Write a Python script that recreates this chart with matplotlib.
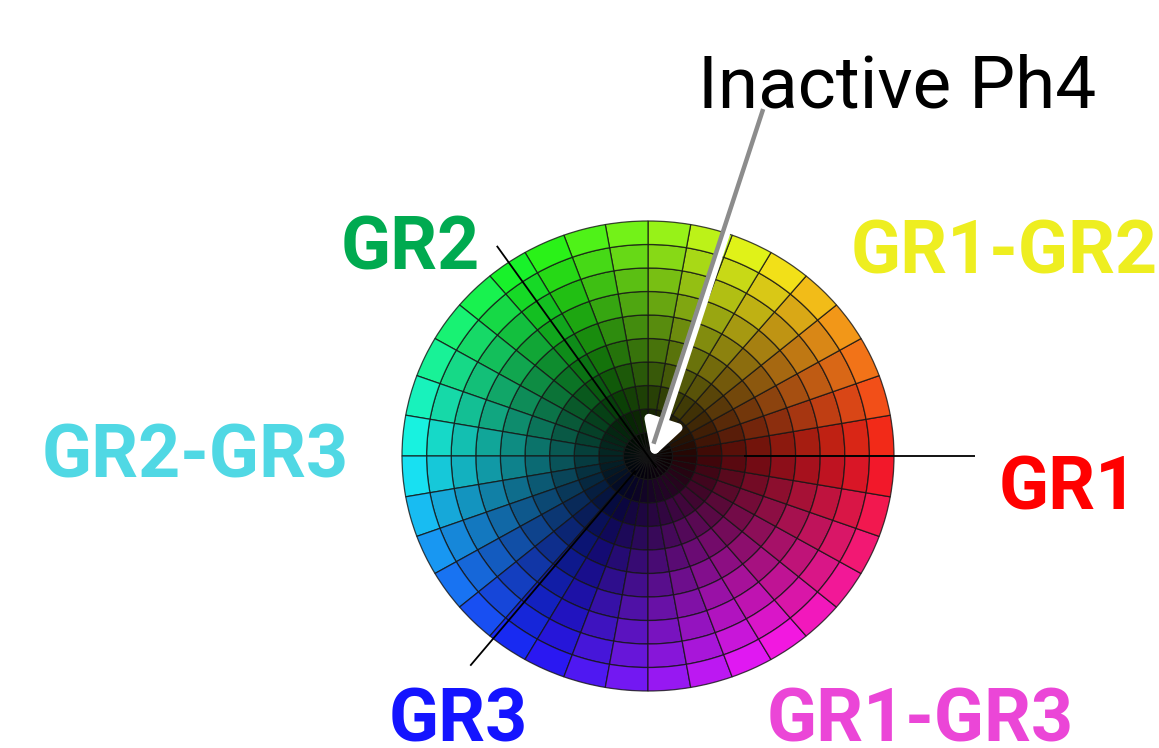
import numpy as np
import matplotlib
matplotlib.use("Agg")
import matplotlib.pyplot as plt
from matplotlib.patches import Wedge
from matplotlib.colors import hsv_to_rgb

# ---- data ----
n_sectors = 36                      # hue sectors around the wheel
ring_values = [0.05, 0.15, 0.25, 0.35, 0.45, 0.55, 0.65, 0.75, 0.85, 0.95]  # brightness per ring (inner->outer)
labels = ["GR1", "GR1-GR2", "GR2", "GR2-GR3", "GR3", "GR1-GR3"]
label_colors = ["#FF0000", "#EEEE20", "#00AA50", "#50D8E4", "#1414FF", "#EB46D7"]
label_px = [(999, 510), (851, 274), (341, 269), (42, 477), (389, 742), (767, 741)]  # left, baseline (pixels)
axis_angles = {"GR1": 0.0, "GR2": 124.5, "GR3": 231.0}
axis_radii = {"GR1": (0.39, 1.33), "GR2": (-0.06, 1.085), "GR3": (0.08, 1.148)}
title_text = "Inactive Ph4"

# ---- layout ----
W, H = 1159, 748
cx, cy = 648, 456          # wheel centre in pixels
rx, ry = 246, 235          # wheel radii in pixels

fig = plt.figure(figsize=(W / 100, H / 100), dpi=100)
ax = fig.add_axes([0, 0, 1, 1])
ax.set_xlim(-cx / rx, (W - cx) / rx)
ax.set_ylim(-(H - cy) / ry, cy / ry)
ax.set_aspect("auto")
ax.axis("off")

n_rings = len(ring_values)
dtheta = 360.0 / n_sectors
for i, v in enumerate(ring_values):
    r_out = (i + 1) / n_rings
    width = 1.0 / n_rings
    for j in range(n_sectors):
        t1 = j * dtheta
        h = (t1 + dtheta / 2) / 360.0
        col = hsv_to_rgb([h, 0.9, v])
        w = Wedge((0, 0), r_out, t1, t1 + dtheta, width=width,
                  facecolor=col, edgecolor=(0.08, 0.08, 0.08, 0.8), linewidth=0.9)
        ax.add_patch(w)

# axis lines
for name, ang in axis_angles.items():
    r0, r1 = axis_radii[name]
    a = np.deg2rad(ang)
    ax.plot([r0 * np.cos(a), r1 * np.cos(a)], [r0 * np.sin(a), r1 * np.sin(a)],
            color="black", lw=1.3, solid_capstyle="butt", zorder=5)

# arrow (white with grey stripe)
tip = (4 / rx, -2 / ry)
start = (118 / rx, 346 / ry)
ax.annotate("", xy=tip, xytext=start,
            arrowprops=dict(arrowstyle="-|>,head_length=0.9,head_width=0.5", color="white",
                            lw=6.5, mutation_scale=22, shrinkA=0, shrinkB=0), zorder=6)
dx_px, dy_px = tip[0] * rx - start[0] * rx, tip[1] * ry - start[1] * ry
L = np.hypot(dx_px, dy_px)
ux, uy = dx_px / L, dy_px / L
px, py = uy, -ux  # perpendicular (to the right in screen)
off = 3.0
g0 = (start[0] + px * off / rx, start[1] + py * off / ry)
g1 = (tip[0] + px * off / rx - ux * 14 / rx, tip[1] + py * off / ry - uy * 14 / ry)
ax.plot([g0[0], g1[0]], [g0[1], g1[1]], color="#8c8c8c", lw=3.2, solid_capstyle="butt", zorder=7)

# texts
fig.text(698 / W, 1 - 107 / H, title_text, fontsize=52.5, family="Roboto",
         color="black", ha="left", va="baseline")
for lab, c, (x, y) in zip(labels, label_colors, label_px):
    fig.text(x / W, 1 - y / H, lab, fontsize=53, family="Roboto", fontweight="bold",
             color=c, ha="left", va="baseline")

fig.savefig("out.png", dpi=100)
